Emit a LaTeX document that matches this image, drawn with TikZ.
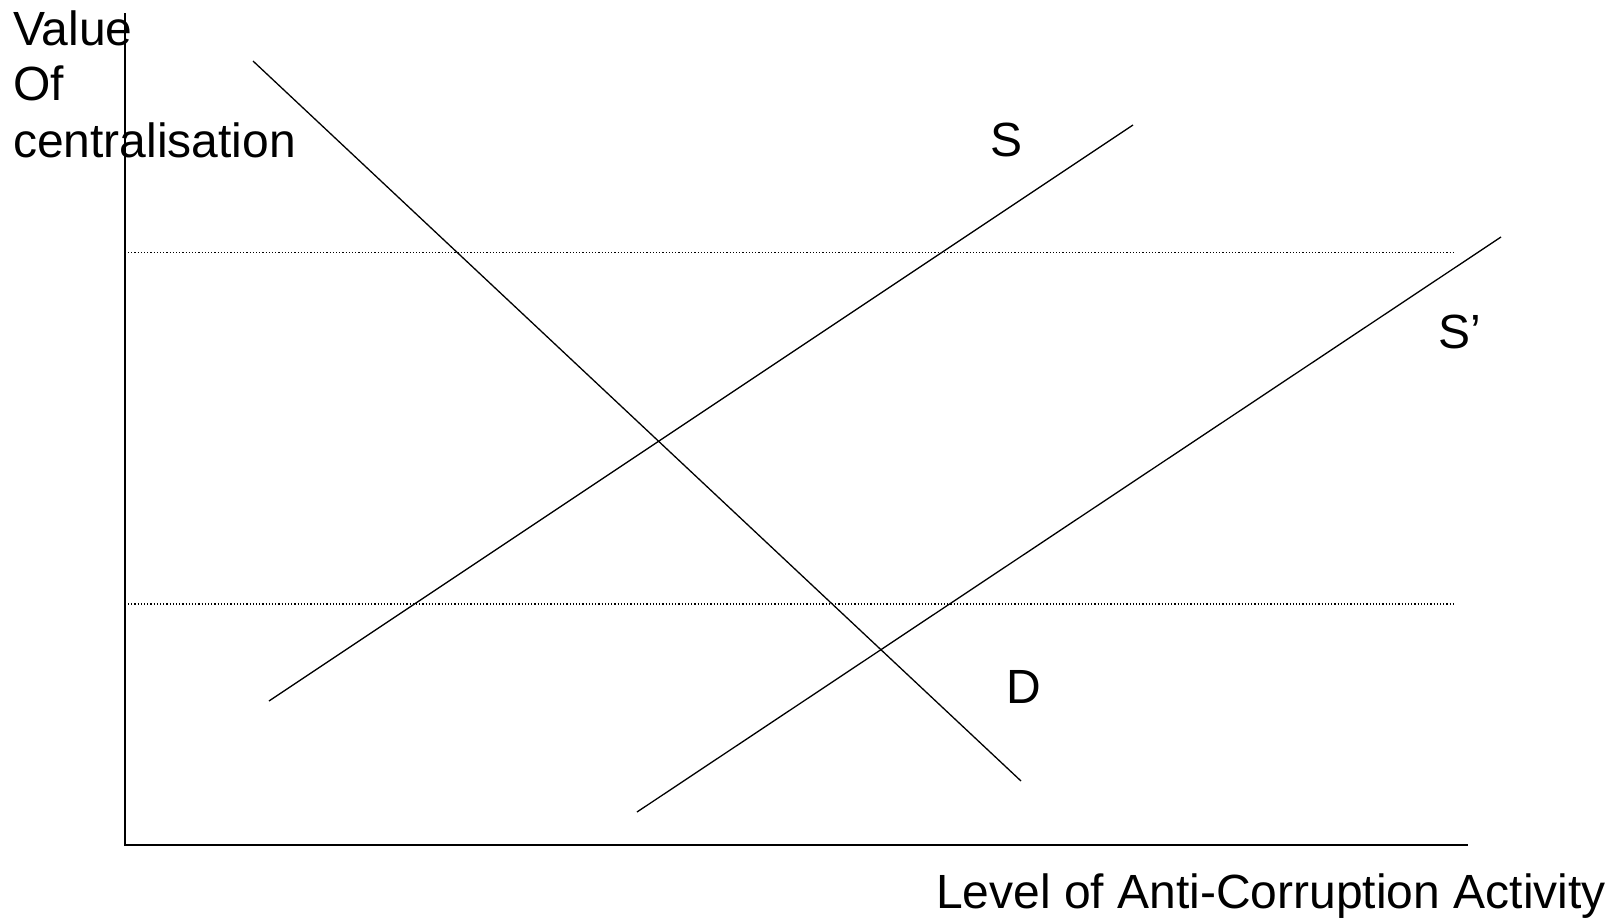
\documentclass[tikz,border=0pt]{standalone}
\usepackage{fontspec}
\setmainfont{Liberation Sans}
\begin{document}
\begin{tikzpicture}[x=1pt,y=-1pt,
  axis/.style={line width=1.8pt},
  curve/.style={line width=1.3pt},
  guide/.style={line width=1.2pt, dash pattern=on 1.2pt off 2pt},
  lbl/.style={inner sep=0pt, anchor=base west, font=\fontsize{48}{56}\selectfont}]
\useasboundingbox (0,0) rectangle (1616,919);
% axes
\coordinate (top) at (125,13);
\coordinate (origin) at (125,845);
\coordinate (right) at (1468,845);
\draw[axis] (top) -- (origin) -- (right);
% dotted guides
\coordinate (g1a) at (128,252.5);
\coordinate (g1b) at (1453,252.5);
\coordinate (g2a) at (128,604);
\coordinate (g2b) at (1453,604);
\draw[guide] (g1a) -- (g1b);
\draw[guide] (g2a) -- (g2b);
% demand
\coordinate (d1) at (253,61);
\coordinate (d2) at (1021,781);
\draw[curve] (d1) -- (d2);
% supply S
\coordinate (s1) at (269,701);
\coordinate (s2) at (1133,125);
\draw[curve] (s1) -- (s2);
% supply S'
\coordinate (t1) at (637,812);
\coordinate (t2) at (1501,237);
\draw[curve] (t1) -- (t2);
% labels
\node[lbl] (ylab1) at (13,45) {Value};
\node[lbl] (ylab2) at (13,100) {Of};
\node[lbl] (ylab3) at (13,157) {centralisation};
\node[lbl] (slab) at (990,156) {S};
\node[lbl] (splab) at (1438,348) {S’};
\node[lbl] (dlab) at (1006,703) {D};
\node[lbl, anchor=base east] (xlab) at (1606,908) {Level of Anti-Corruption Activity};
\end{tikzpicture}
\end{document}
